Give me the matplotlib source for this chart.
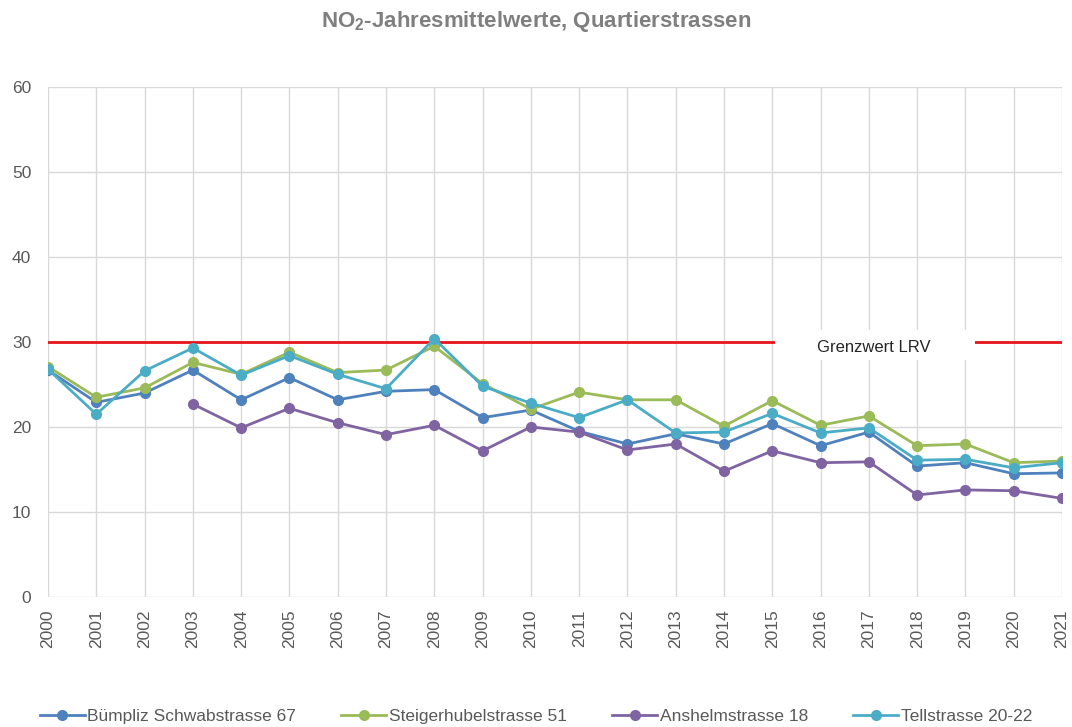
import numpy as np
import matplotlib.pyplot as plt
from matplotlib.patches import Rectangle

# NO2 annual means
years = list(range(2000, 2022))
buempliz = [26.7, 22.9, 24.0, 26.7, 23.2, 25.8, 23.2, 24.2, 24.4, 21.1, 22.0,
            19.5, 18.0, 19.2, 18.0, 20.4, 17.8, 19.4, 15.4, 15.8, 14.5, 14.6]
steigerhubel = [27.1, 23.5, 24.6, 27.6, 26.2, 28.8, 26.4, 26.7, 29.5, 25.1, 22.1,
                24.1, 23.2, 23.2, 20.1, 23.1, 20.2, 21.3, 17.8, 18.0, 15.8, 16.0]
anshelm = [np.nan, np.nan, np.nan, 22.7, 19.9, 22.2, 20.5, 19.1, 20.2, 17.2, 20.0,
           19.4, 17.3, 18.0, 14.8, 17.2, 15.8, 15.9, 12.0, 12.6, 12.5, 11.6]
tell = [26.8, 21.5, 26.6, 29.3, 26.1, 28.4, 26.2, 24.5, 30.4, 24.8, 22.8,
        21.1, 23.2, 19.3, 19.4, 21.6, 19.3, 19.9, 16.1, 16.2, 15.2, 15.8]

series_names = ['Bümpliz Schwabstrasse 67', 'Steigerhubelstrasse 51',
                'Anshelmstrasse 18', 'Tellstrasse 20-22']
colors = ['#4f81bd', '#9bbb59', '#8064a2', '#4bacc6']
grenzwert = 30

plt.rcParams['font.family'] = ['Liberation Sans', 'DejaVu Sans']
plt.rcParams['mathtext.fontset'] = 'custom'
plt.rcParams['mathtext.rm'] = 'Liberation Sans:bold'

fig = plt.figure(figsize=(10.72, 7.27), dpi=100)
ax = fig.add_axes([48 / 1072, 130 / 727, 1014 / 1072, 510 / 727])

# limit line + label box
ax.axhline(grenzwert, color='#e8141b', lw=2, zorder=2)
ax.add_patch(Rectangle((2015.05, 27.9), 4.15, 3.5, facecolor='white',
                       edgecolor='none', zorder=2.5))
ax.text(2017.1, grenzwert - 0.6, 'Grenzwert LRV', ha='center', va='center',
        fontsize=12, color='#262626', zorder=2.6)

for vals, name, c in zip([buempliz, steigerhubel, anshelm, tell], series_names, colors):
    ax.plot(years, vals, color=c, lw=2, marker='o', ms=7, label=name, zorder=3)

ax.set_xlim(2000, 2021)
ax.set_ylim(0, 60)
ax.set_xticks(years)
ax.set_xticklabels([str(y) for y in years], rotation=90)
ax.set_yticks(range(0, 61, 10))
ax.tick_params(axis='both', length=0, labelsize=12.5, colors='#595959')
ax.tick_params(axis='x', pad=9)
ax.tick_params(axis='y', pad=12)
ax.grid(True, color='#d9d9d9', lw=1)
ax.set_axisbelow(True)
for s in ax.spines.values():
    s.set_visible(False)

fig.suptitle(r'NO$_\mathrm{2}$-Jahresmittelwerte, Quartierstrassen', y=0.988, fontsize=16,
             fontweight='bold', color='#7f7f7f')

fig.legend(loc='center', bbox_to_anchor=(0.5, 1 - 716 / 727), ncol=4, frameon=False,
           fontsize=12.5, labelcolor='#595959', handlelength=2.6, handletextpad=0.15,
           columnspacing=2.6)

fig.savefig('out.png', dpi=100)
